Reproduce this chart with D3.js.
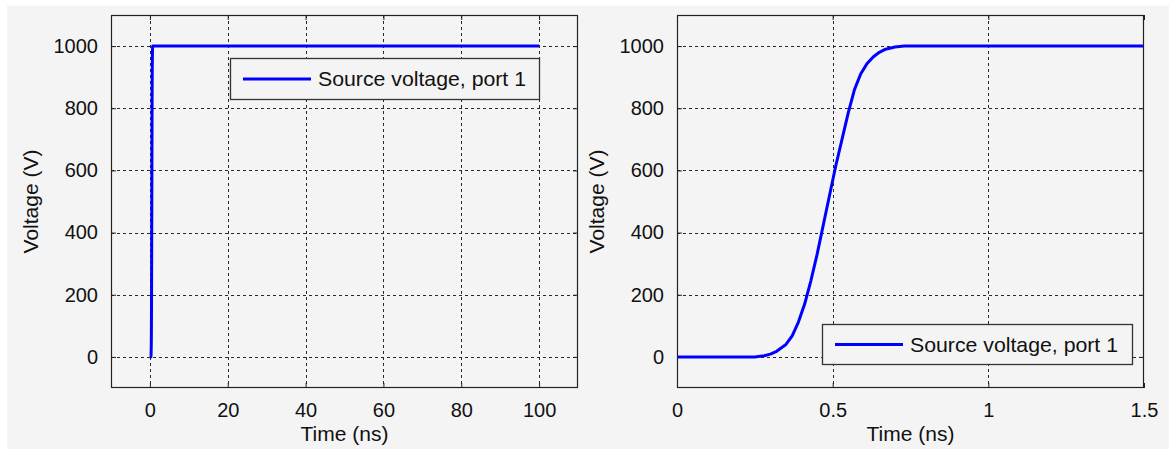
<!DOCTYPE html>
<html>
<head>
<meta charset="utf-8">
<script src="https://cdn.jsdelivr.net/npm/d3@7"></script>
<style>
  html, body { margin: 0; padding: 0; background: #ffffff; }
  svg { display: block; }
  text { font-family: "Liberation Sans", Arial, Helvetica, sans-serif; fill: #111; }
</style>
</head>
<body>
<svg id="fig" width="1169" height="449"></svg>
<script>
// Source voltage waveform at port 1 (time in ns, voltage in V)
const timeNs   = [0, 0.25, 0.28, 0.30, 0.32, 0.35, 0.37, 0.39, 0.41, 0.43, 0.45, 0.47, 0.49, 0.51, 0.53, 0.55, 0.57, 0.59, 0.61, 0.63, 0.65, 0.67, 0.70, 0.73, 1.5, 100];
const voltageV = [0, 0,    4,    9,    18,   40,   68,   112,  170,  245,  330,  425,  520,  615,  700,  785,  860,  910,  943,  965,  980,  990,  997,  1000, 1000, 1000];

const legendLabel = "Source voltage, port 1";
const xLabel = "Time (ns)";
const yLabel = "Voltage (V)";

const yTicks = [0, 200, 400, 600, 800, 1000];
const xTicksFull = [0, 20, 40, 60, 80, 100];
const xTicksZoom = [0, 0.5, 1, 1.5];

const points = timeNs.map((t, i) => ({ t, v: voltageV[i] }));

const svg = d3.select("#fig");
const BG = "#f4f4f4";

svg.append("rect").attr("x", 7).attr("y", 6).attr("width", 1169 - 7).attr("height", 449 - 6).attr("fill", BG);

const panels = [
  { left: 111, top: 15, width: 467, height: 373, xDomain: [-10, 110], xTicks: xTicksFull,
    legend: { x: 230, y: 58, w: 309, h: 41 } },
  { left: 677, top: 15, width: 467, height: 373, xDomain: [0, 1.5], xTicks: xTicksZoom,
    legend: { x: 822, y: 324, w: 310, h: 40 } }
];

panels.forEach((p, idx) => {
  const x = d3.scaleLinear().domain(p.xDomain).range([p.left, p.left + p.width]);
  const y = d3.scaleLinear().domain([-100, 1100]).range([p.top + p.height, p.top]);
  const g = svg.append("g");

  const clipId = "clip" + idx;
  g.append("clipPath").attr("id", clipId).append("rect")
    .attr("x", p.left).attr("y", p.top).attr("width", p.width).attr("height", p.height);

  g.append("rect").attr("x", p.left).attr("y", p.top).attr("width", p.width).attr("height", p.height)
    .attr("fill", BG);

  // dotted grid
  const grid = g.append("g").attr("stroke", "#2a2a2a").attr("stroke-width", 1).attr("stroke-dasharray", "3,3");
  grid.selectAll("line.gx").data(p.xTicks.filter(d => x(d) > p.left + 1 && x(d) < p.left + p.width - 1))
    .join("line").attr("class", "gx")
    .attr("x1", d => Math.round(x(d)) + 0.5).attr("x2", d => Math.round(x(d)) + 0.5)
    .attr("y1", p.top).attr("y2", p.top + p.height);
  grid.selectAll("line.gy").data(yTicks)
    .join("line").attr("class", "gy")
    .attr("y1", d => Math.round(y(d)) + 0.5).attr("y2", d => Math.round(y(d)) + 0.5)
    .attr("x1", p.left).attr("x2", p.left + p.width);

  // axes with inward ticks on all four sides
  const tickLen = 5;
  const axB = d3.axisBottom(x).tickValues(p.xTicks).tickSizeInner(-tickLen).tickSizeOuter(0).tickPadding(15).tickFormat(d3.format("~g"));
  const axT = d3.axisTop(x).tickValues(p.xTicks).tickSizeInner(-tickLen).tickSizeOuter(0).tickFormat("");
  const axL = d3.axisLeft(y).tickValues(yTicks).tickSizeInner(-tickLen).tickSizeOuter(0).tickPadding(13).tickFormat(d3.format("d"));
  const axR = d3.axisRight(y).tickValues(yTicks).tickSizeInner(-tickLen).tickSizeOuter(0).tickFormat("");

  const gb = g.append("g").attr("transform", `translate(0,${p.top + p.height})`).call(axB);
  const gt = g.append("g").attr("transform", `translate(0,${p.top})`).call(axT);
  const gl = g.append("g").attr("transform", `translate(${p.left},0)`).call(axL);
  const gr = g.append("g").attr("transform", `translate(${p.left + p.width},0)`).call(axR);
  [gb, gt, gl, gr].forEach(a => {
    a.select(".domain").remove();
    a.selectAll(".tick line").attr("stroke", "#222").attr("stroke-width", 1);
    a.selectAll(".tick text").attr("fill", "#111").style("font-size", "20px")
      .style("font-family", '"Liberation Sans", Arial, sans-serif');
  });

  // data line
  const line = d3.line().x(d => x(d.t)).y(d => y(d.v));
  g.append("path").datum(points).attr("clip-path", `url(#${clipId})`)
    .attr("fill", "none").attr("stroke", "#0000ff").attr("stroke-width", 3)
    .attr("stroke-linejoin", "round").attr("d", line);

  // frame
  g.append("rect").attr("x", p.left + 0.5).attr("y", p.top + 0.5).attr("width", p.width - 1).attr("height", p.height - 1)
    .attr("fill", "none").attr("stroke", "#222").attr("stroke-width", 1.2);

  // axis titles
  g.append("text").attr("x", p.left + p.width / 2).attr("y", 441).attr("text-anchor", "middle")
    .style("font-size", "21px").text(xLabel);
  g.append("text").attr("transform", `translate(${p.left - 73},${p.top + p.height / 2}) rotate(-90)`)
    .attr("text-anchor", "middle").style("font-size", "21px").text(yLabel);

  // legend
  const L = p.legend;
  const lg = g.append("g");
  lg.append("rect").attr("x", L.x + 0.5).attr("y", L.y + 0.5).attr("width", L.w).attr("height", L.h)
    .attr("fill", BG).attr("stroke", "#333").attr("stroke-width", 1.3);
  lg.append("line").attr("x1", L.x + 13).attr("x2", L.x + 81)
    .attr("y1", L.y + L.h / 2 + 0.5).attr("y2", L.y + L.h / 2 + 0.5)
    .attr("stroke", "#0000ff").attr("stroke-width", 3);
  lg.append("text").attr("x", L.x + 88).attr("y", L.y + L.h / 2 + 7.5)
    .style("font-size", "21px").attr("textLength", 208).attr("lengthAdjust", "spacingAndGlyphs")
    .text(legendLabel);
});
</script>
</body>
</html>
